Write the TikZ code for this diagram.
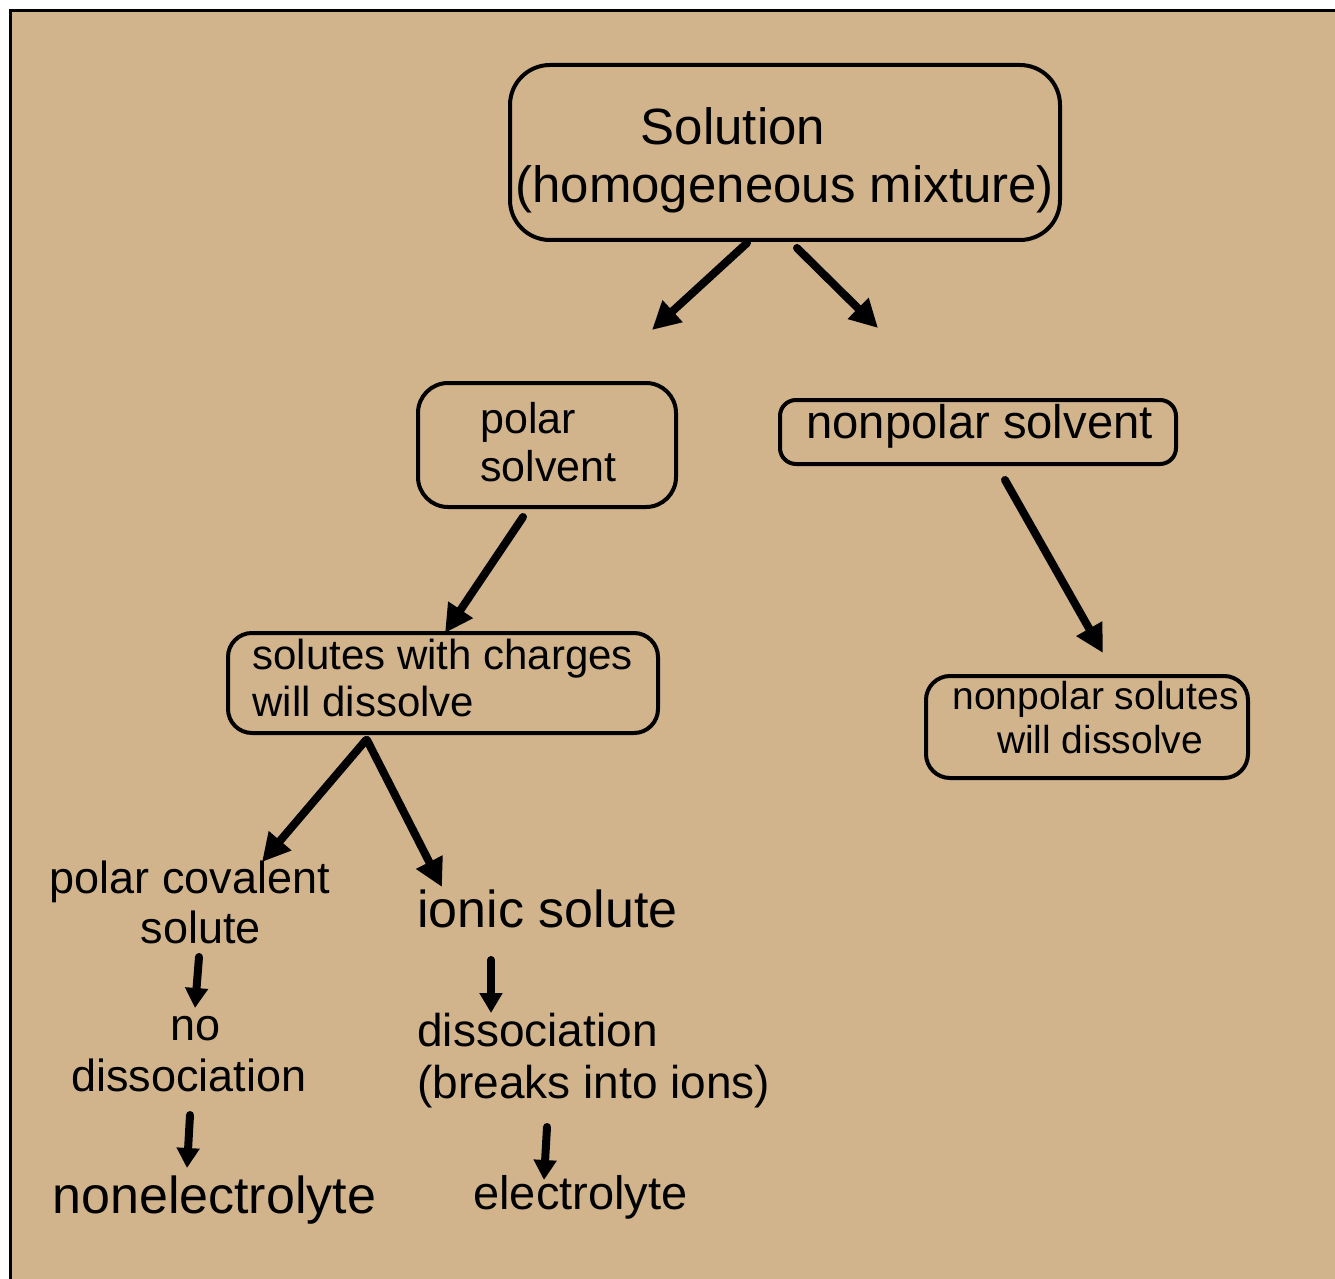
\documentclass[tikz,border=0pt]{standalone}
\usepackage{fontspec}
\setmainfont{Liberation Sans}
\usetikzlibrary{arrows.meta}
\definecolor{bg}{RGB}{210,180,140}
\begin{document}
\begin{tikzpicture}[x=0.5pt,y=-0.5pt,
  box/.style={draw=black,line width=2pt,inner sep=0pt},
  big/.style={line width=4pt,line cap=round,-{Triangle[length=14pt,width=14pt]}},
  small/.style={line width=4pt,line cap=round,-{Triangle[length=10pt,width=11pt]}},
  tw/.style={inner sep=0pt,anchor=base west},
  tc/.style={inner sep=0pt,anchor=base}]
\useasboundingbox (0,0) rectangle (1335,1279);
\fill[white] (0,0) rectangle (1335,1279);
\draw[fill=bg,line width=1.5pt] (10,11) rectangle (1350,1295);
% boxes
\node[box,rounded corners=20pt,minimum width=275pt,minimum height=87.5pt] (sol) at (785,152.5) {};
\node[box,rounded corners=15pt,minimum width=129pt,minimum height=62pt] (pol) at (547,445) {};
\node[box,rounded corners=8pt,minimum width=198pt,minimum height=32pt] (npol) at (978,432) {};
\node[box,rounded corners=12pt,minimum width=215pt,minimum height=50pt] (chg) at (443,683) {};
\node[box,rounded corners=12pt,minimum width=161pt,minimum height=51pt] (nps) at (1087,727) {};
% texts
\node[tc,font=\fontsize{25.5}{30}\selectfont] (t1) at (733,145) {Solution};
\node[tw,font=\fontsize{25.5}{30}\selectfont] (t2) at (515,203) {(homogeneous mixture)};
\node[tw,font=\fontsize{21.5}{26}\selectfont] (t3) at (480,433) {polar};
\node[tw,font=\fontsize{21.5}{26}\selectfont] (t4) at (480,481) {solvent};
\node[tw,font=\fontsize{23.6}{28}\selectfont] (t5) at (806,438) {nonpolar solvent};
\node[tw,font=\fontsize{21}{25}\selectfont] (t6) at (252,669) {solutes with charges};
\node[tw,font=\fontsize{21}{25}\selectfont] (t7) at (252,716) {will dissolve};
\node[tw,font=\fontsize{19.5}{23}\selectfont] (t8) at (952,709) {nonpolar solutes};
\node[tc,font=\fontsize{19.5}{23}\selectfont] (t9) at (1100,753) {will dissolve};
\node[tc,font=\fontsize{22.5}{27}\selectfont] (t10) at (190,893) {polar covalent};
\node[tc,font=\fontsize{22.5}{27}\selectfont] (t11) at (201,943) {solute};
\node[tw,font=\fontsize{26}{31}\selectfont] (t12) at (417,927) {ionic solute};
\node[tc,font=\fontsize{22.5}{27}\selectfont] (t13) at (196,1040) {no};
\node[tc,font=\fontsize{22.5}{27}\selectfont] (t14) at (189,1091) {dissociation};
\node[tw,font=\fontsize{23}{28}\selectfont] (t15) at (417,1046) {dissociation};
\node[tw,font=\fontsize{23}{28}\selectfont] (t16) at (417,1098) {(breaks into ions)};
\node[tw,font=\fontsize{26}{31}\selectfont] (t17) at (52,1213) {nonelectrolyte};
\node[tw,font=\fontsize{23.5}{28}\selectfont] (t18) at (473,1209) {electrolyte};
% arrow end points
\coordinate (a1s) at (747,243); \coordinate (a1e) at (652,330);
\coordinate (a2s) at (797,248); \coordinate (a2e) at (878,328);
\coordinate (a3s) at (523,517); \coordinate (a3e) at (445,633);
\coordinate (a4s) at (1005,480); \coordinate (a4e) at (1103,653);
\coordinate (a5s) at (366,740); \coordinate (a5e) at (262,862);
\coordinate (a6s) at (367,740); \coordinate (a6e) at (442,887);
\coordinate (b1s) at (199,957); \coordinate (b1e) at (195,1008);
\coordinate (b2s) at (491,960); \coordinate (b2e) at (491,1013);
\coordinate (b3s) at (190,1115); \coordinate (b3e) at (187,1168);
\coordinate (b4s) at (547,1127); \coordinate (b4e) at (544,1180);
\draw[big] (a1s) -- (a1e);
\draw[big] (a2s) -- (a2e);
\draw[big] (a3s) -- (a3e);
\draw[big] (a4s) -- (a4e);
\draw[big] (a5s) -- (a5e);
\draw[big] (a6s) -- (a6e);
\draw[small] (b1s) -- (b1e);
\draw[small] (b2s) -- (b2e);
\draw[small] (b3s) -- (b3e);
\draw[small] (b4s) -- (b4e);
\end{tikzpicture}
\end{document}
